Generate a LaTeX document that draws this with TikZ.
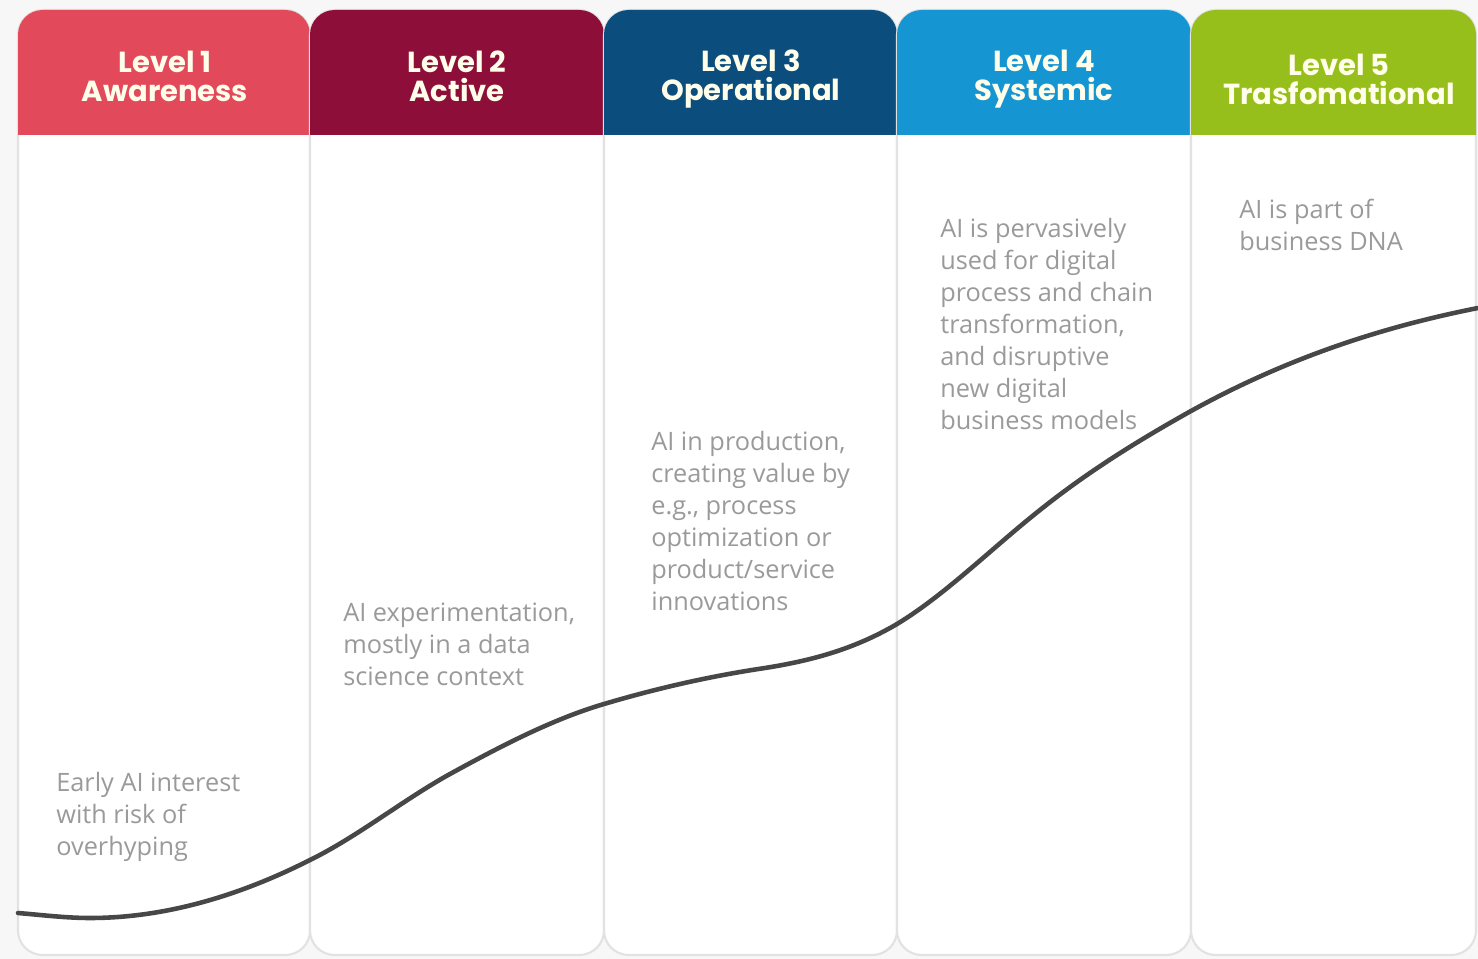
\documentclass[tikz,border=0pt]{standalone}
\usepackage{fontspec}
\setmainfont{Open Sans}
\newfontfamily\headfont{Poppins}
\definecolor{lvlone}{HTML}{E2495A}
\definecolor{lvltwo}{HTML}{8D0F39}
\definecolor{lvlthree}{HTML}{0B4D7C}
\definecolor{lvlfour}{HTML}{1596D3}
\definecolor{lvlfive}{HTML}{97BF1B}
\definecolor{bodygray}{HTML}{9A9A9A}
\definecolor{rimgray}{HTML}{E2E2E2}
\tikzset{
    column/.style={draw=rimgray, line width=1.2pt, fill=white, rounded corners=14pt},
    headlabel/.style={align=center, text=white!92!yellow, font=\headfont\bfseries\fontsize{16.5}{16.5}\selectfont},
    bodytext/.style={anchor=north west, align=left, inner sep=0pt, text=bodygray, font=\fontsize{14.4}{18.2}\selectfont},
}

\begin{document}
\begin{tikzpicture}[x=0.02cm,y=-0.02cm]
        \useasboundingbox[fill=white!97!black] (0,0) rectangle (1478,959);
        % columns
        \foreach \xa/\xb/\col in {18/310/lvlone, 310/604/lvltwo, 604/897/lvlthree, 897/1191/lvlfour, 1191/1476/lvlfive}{
            \draw[column] (\xa,10) rectangle (\xb,955);
            \fill[\col] (\xa,135) [rounded corners=14pt] -- (\xa,10) -- (\xb,10) [sharp corners] -- (\xb,135) -- cycle;
        }
        % headers
        \node[headlabel] (head1) at (165,76) {Level 1\\Awareness};
        \node[headlabel] (head2) at (457,76) {Level 2\\Active};
        \node[headlabel] (head3) at (751,79) {Level 3\\Operational};
        \node[headlabel] (head4) at (1044,79) {Level 4\\Systemic};
        \node[headlabel] (head5) at (1339,79) {Level 5\\Trasfomational};
        % maturity curve
        \draw[line width=2.6pt, color=black!72, line cap=round]
            (18,913) .. controls (42,915) and (66,918) .. (90,918)
            .. controls (163,918) and (237,897) .. (310,860)
            .. controls (357,837) and (403,800) .. (450,774)
            .. controls (501,746) and (553,719) .. (604,704)
            .. controls (658,688) and (711,676) .. (765,668)
            .. controls (809,661) and (853,650) .. (897,624)
            .. controls (945,595) and (992,548) .. (1040,510)
            .. controls (1090,470) and (1141,439) .. (1191,411)
            .. controls (1287,358) and (1382,327) .. (1478,308);
        % descriptions
        \node[bodytext] (desc1) at (56,772) {Early AI interest\\with risk of\\overhyping};
        \node[bodytext] (desc2) at (343,603) {AI experimentation,\\mostly in a data\\science context};
        \node[bodytext] (desc3) at (651,431) {AI in production,\\creating value by\\e.g., process\\optimization or\\product/service\\innovations};
        \node[bodytext] (desc4) at (940,218) {AI is pervasively\\used for digital\\process and chain\\transformation,\\and disruptive\\new digital\\business models};
        \node[bodytext] (desc5) at (1239,199) {AI is part of\\business DNA};
    \end{tikzpicture}
\end{document}
